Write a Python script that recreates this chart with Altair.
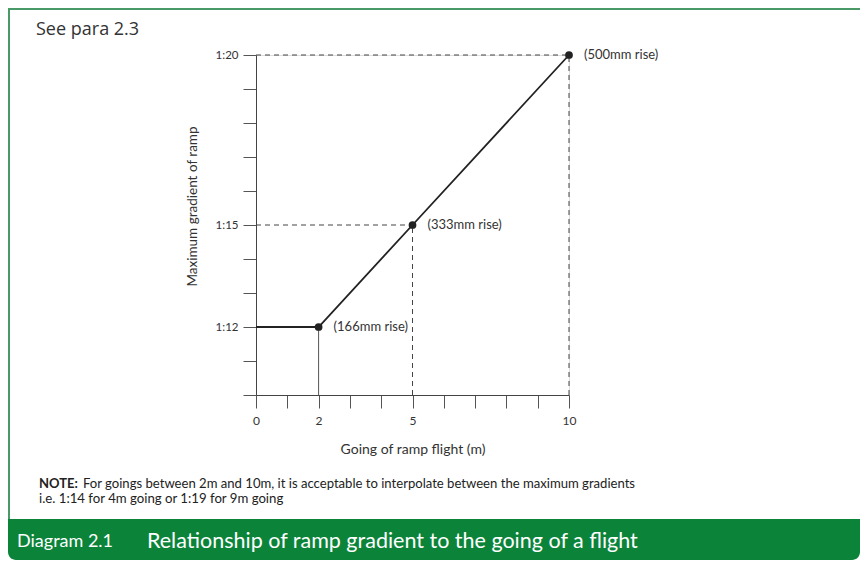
import altair as alt
import pandas as pd

# ---- data ----
going = [0, 2, 5, 10]                  # metres
gradient = [12, 12, 15, 20]            # 1:N
pt_going = [2, 5, 10]
pt_gradient = [12, 15, 20]
pt_labels = ["(166mm rise)", "(333mm rise)", "(500mm rise)"]

dash_h_gradient = [20, 15]             # horizontal dashed guides
dash_h_going_end = [10, 5]
dash_v_going = [5, 10]                 # vertical dashed guides
dash_v_gradient_top = [15, 20]
solid_v_going = [2]
solid_v_gradient_top = [12]

x_ticks = list(range(0, 11))
x_labelled = [0, 2, 5, 10]
y_ticks = list(range(10, 21))
y_labelled = [12, 15, 20]

header_text = "See para 2.3"
note_bold = "NOTE:"
note_line1 = "For goings between 2m and 10m, it is acceptable to interpolate between the maximum gradients"
note_line2 = "i.e. 1:14 for 4m going or 1:19 for 9m going"
banner_num = "Diagram 2.1"
banner_title = "Relationship of ramp gradient to the going of a flight"

GREEN = "#0b843a"
FONT = "Lato"

line_df = pd.DataFrame({"going": going, "gradient": gradient, "order": range(len(going))})
pts_df = pd.DataFrame({"going": pt_going, "gradient": pt_gradient, "label": pt_labels})
dh_df = pd.DataFrame({"going": [0] * len(dash_h_gradient), "g1": dash_h_going_end,
                      "gradient": dash_h_gradient})
dv_df = pd.DataFrame({"going": dash_v_going, "gradient": [10] * len(dash_v_going),
                      "y1": dash_v_gradient_top})
sv_df = pd.DataFrame({"going": solid_v_going, "gradient": [10], "y1": solid_v_gradient_top})

xlab_expr = "indexof([" + ",".join(str(v) for v in x_labelled) + "], datum.value) >= 0 ? datum.label : ''"
ylab_expr = "indexof([" + ",".join(str(v) for v in y_labelled) + "], datum.value) >= 0 ? '1:' + datum.label : ''"

xscale = alt.Scale(domain=[0, 10], nice=False, zero=False)
yscale = alt.Scale(domain=[10, 20], nice=False, zero=False)

x_axis = alt.Axis(values=x_ticks, labelExpr=xlab_expr, title="Going of ramp flight (m)",
                  tickSize=13, tickColor="#555", domainColor="#444", labelColor="#333",
                  labelFontSize=12, labelFont=FONT, labelPadding=7, grid=False,
                  labelOverlap=False,
                  titleFont=FONT, titleFontSize=14, titleFontWeight="normal",
                  titleColor="#333", titleX=156.5, titleY=54, titleBaseline="middle",
                  titleAlign="center", labelFlush=False)
y_axis = alt.Axis(values=y_ticks, labelExpr=ylab_expr, title="Maximum gradient of ramp",
                  tickSize=13, tickColor="#555", domainColor="#444", labelColor="#333",
                  labelFontSize=11.5, labelFont=FONT, labelPadding=5, grid=False,
                  labelOverlap=False,
                  titleFont=FONT, titleFontSize=13.5, titleFontWeight="normal",
                  titleColor="#333", titleX=-64, titleY=151, titleBaseline="middle",
                  titleAlign="center", titleAngle=270, labelFlush=False)

X = alt.X("going:Q", scale=xscale, axis=x_axis)
Y = alt.Y("gradient:Q", scale=yscale, axis=y_axis)

dash_h = alt.Chart(dh_df).mark_rule(strokeDash=[5, 4], color="#444", strokeWidth=1).encode(
    x=X, x2="g1:Q", y=Y)
dash_v = alt.Chart(dv_df).mark_rule(strokeDash=[5, 4], color="#444", strokeWidth=1).encode(
    x=X, y=Y, y2="y1:Q")
solid_v = alt.Chart(sv_df).mark_rule(color="#555", strokeWidth=1).encode(
    x=X, y=Y, y2="y1:Q")
main_line = alt.Chart(line_df).mark_line(color="#222", strokeWidth=1.8).encode(
    x=X, y=Y, order="order:Q")
points = alt.Chart(pts_df).mark_circle(color="#222", size=60, opacity=1).encode(x=X, y=Y)
pt_text = alt.Chart(pts_df).mark_text(align="left", baseline="middle", dx=15, font=FONT,
                                      fontSize=13, color="#333").encode(
    x=X, y=Y, text="label:N")

one = alt.Data(values=[{"a": 1}])


def txt(s, x, y, size, color="#333", weight="normal", align="left", font=FONT):
    return alt.Chart(one).mark_text(align=align, baseline="middle", fontSize=size,
                                    fontWeight=weight, color=color, font=font).encode(
        x=alt.value(x), y=alt.value(y), text=alt.value(s))


banner = alt.Chart(one).mark_rect(color=GREEN, cornerRadiusBottomLeft=8,
                                  cornerRadiusBottomRight=8).encode(
    x=alt.value(-248), x2=alt.value(604), y=alt.value(464), y2=alt.value(505))
border_top = alt.Chart(one).mark_rule(color="#4a9a68", strokeWidth=2).encode(
    x=alt.value(-248), x2=alt.value(604), y=alt.value(-46))
border_left = alt.Chart(one).mark_rule(color="#4a9a68", strokeWidth=2).encode(
    x=alt.value(-247), y=alt.value(-47), y2=alt.value(464))

chart = alt.layer(
    dash_h, dash_v, solid_v, main_line, points, pt_text,
    border_top, border_left, banner,
    txt(header_text, -220, -25, 18, color="#333", font="Open Sans"),
    txt(note_bold, -217, 429, 13, color="#222", weight="bold"),
    txt(note_line1, -173, 429, 13.1, color="#222"),
    txt(note_line2, -217, 444, 13.2, color="#222"),
    txt(banner_num, -239, 487, 18, color="white"),
    txt(banner_title, -109, 487, 21.5, color="white"),
).properties(
    width=313, height=340,
    autosize=alt.AutoSizeParams(type="none"),
    padding={"left": 248, "top": 47, "right": 291, "bottom": 165},
).configure_view(stroke=None).configure(background="white")

chart.save("out.html", embed_options={"renderer": "svg", "actions": False})
